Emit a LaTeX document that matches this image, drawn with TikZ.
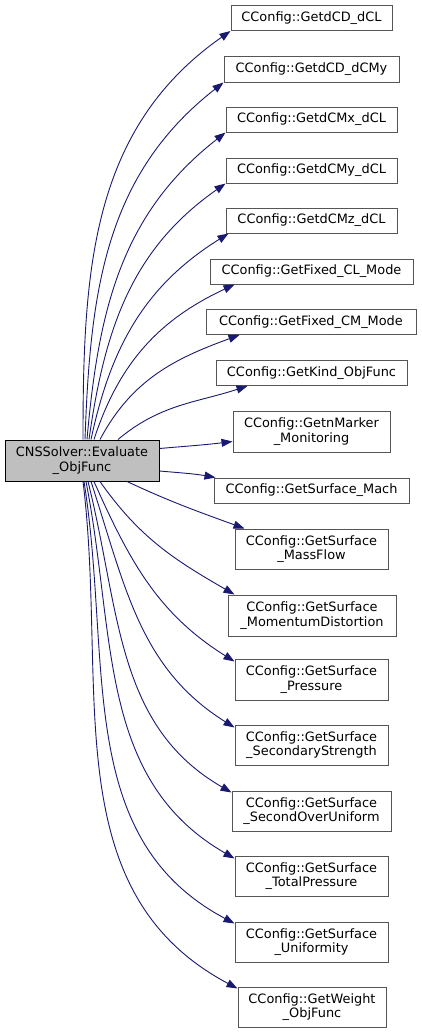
\documentclass[tikz,border=0pt]{standalone}
\usepackage{fontspec}
\setmainfont{DejaVu Sans}
\usetikzlibrary{arrows.meta}
\definecolor{edgeblue}{HTML}{191970}
\definecolor{boxgray}{HTML}{555555}
\definecolor{maingray}{HTML}{BFBFBF}
\tikzset{
  fn/.style={draw=boxgray, fill=white, line width=1pt, align=center,
    inner sep=0pt, minimum height=25pt,
    font=\fontsize{12.9}{14.5}\selectfont},
  fntwo/.style={fn, minimum height=40pt},
  call/.style={draw=edgeblue, line width=0.9pt,
    -{Triangle[length=11pt,width=8pt]}, fill=none}
}
\begin{document}
\begin{tikzpicture}[x=1pt, y=-1pt]
\useasboundingbox (0,0) rectangle (421,1033);
% caller
\node[fn, fill=maingray, draw=black, minimum width=154pt, minimum height=41pt]
  (main) at (82,460.5) {CNSSolver::Evaluate\\\_ObjFunc};
% callees
\node[fn, minimum width=161pt] (t1) at (311.5,18) {CConfig::GetdCD\_dCL};
\node[fn, minimum width=175pt] (t2) at (311.5,69.5) {CConfig::GetdCD\_dCMy};
\node[fn, minimum width=171pt] (t3) at (311.5,119.5) {CConfig::GetdCMx\_dCL};
\node[fn, minimum width=171pt] (t4) at (311.5,170.5) {CConfig::GetdCMy\_dCL};
\node[fn, minimum width=171pt] (t5) at (311.5,220.5) {CConfig::GetdCMz\_dCL};
\node[fn, minimum width=203pt] (t6) at (311.5,271.5) {CConfig::GetFixed\_CL\_Mode};
\node[fn, minimum width=210pt] (t7) at (311,322) {CConfig::GetFixed\_CM\_Mode};
\node[fn, minimum width=191pt] (t8) at (311.5,373) {CConfig::GetKind\_ObjFunc};
\node[fntwo, minimum width=157pt, minimum height=41pt] (t9) at (311.5,431.5) {CConfig::GetnMarker\\\_Monitoring};
\node[fn, minimum width=195pt] (t10) at (311.5,490.5) {CConfig::GetSurface\_Mach};
\node[fntwo, minimum width=153pt] (t11) at (311.5,549) {CConfig::GetSurface\\\_MassFlow};
\node[fntwo, minimum width=168pt, minimum height=41pt] (t12) at (312,615.5) {CConfig::GetSurface\\\_MomentumDistortion};
\node[fntwo, minimum width=153pt, minimum height=41pt] (t13) at (311.5,679.5) {CConfig::GetSurface\\\_Pressure};
\node[fntwo, minimum width=153pt] (t14) at (311.5,745) {CConfig::GetSurface\\\_SecondaryStrength};
\node[fntwo, minimum width=159pt] (t15) at (311.5,811) {CConfig::GetSurface\\\_SecondOverUniform};
\node[fntwo, minimum width=153pt] (t16) at (311.5,876) {CConfig::GetSurface\\\_TotalPressure};
\node[fntwo, minimum width=153pt] (t17) at (311.5,942) {CConfig::GetSurface\\\_Uniformity};
\node[fntwo, minimum width=148pt] (t18) at (312,1007) {CConfig::GetWeight\\\_ObjFunc};
% calls upward
\draw[call] ([xshift=1pt]main.north) to[out=90,in=215] (t1.south west);
\draw[call] ([xshift=3pt]main.north) to[out=88,in=218] (t2.south west);
\draw[call] ([xshift=5pt]main.north) to[out=85,in=218] (t3.south west);
\draw[call] ([xshift=7pt]main.north) to[out=82,in=215] (t4.south west);
\draw[call] ([xshift=9pt]main.north) to[out=78,in=212] ([xshift=3pt]t5.south west);
\draw[call] ([xshift=12pt]main.north) to[out=72,in=205] ([xshift=25pt]t6.south west);
\draw[call] ([xshift=18pt]main.north) to[out=62,in=200] ([xshift=34pt]t7.south west);
\draw[call] ([xshift=36pt]main.north) to[out=40,in=198] ([xshift=32pt]t8.south west);
% calls sideways
\draw[call] ([yshift=-9pt]main.north east) to[out=5,in=187] ([yshift=-10pt]t9.west);
\draw[call] ([yshift=-10.5pt]main.east) to[out=-5,in=170] ([xshift=2pt]t10.north west);
% calls downward
\draw[call] ([xshift=45pt]main.south) to[out=-25,in=160] ([xshift=10pt]t11.north west);
\draw[call] ([xshift=18pt]main.south) to[out=-55,in=150] ([xshift=7pt]t12.north west);
\draw[call] ([xshift=12pt]main.south) to[out=-66,in=148] ([yshift=-3pt]t13.north west);
\draw[call] ([xshift=9pt]main.south) to[out=-72,in=148] ([yshift=-3pt]t14.north west);
\draw[call] ([xshift=6pt]main.south) to[out=-76,in=150] ([yshift=-2pt]t15.north west);
\draw[call] ([xshift=4pt]main.south) to[out=-79,in=150] ([yshift=-3pt]t16.north west);
\draw[call] ([xshift=2pt]main.south) to[out=-81,in=152] ([yshift=-2pt]t17.north west);
\draw[call] ([xshift=1pt]main.south) to[out=-83,in=152] ([yshift=-2pt]t18.north west);
\end{tikzpicture}
\end{document}
